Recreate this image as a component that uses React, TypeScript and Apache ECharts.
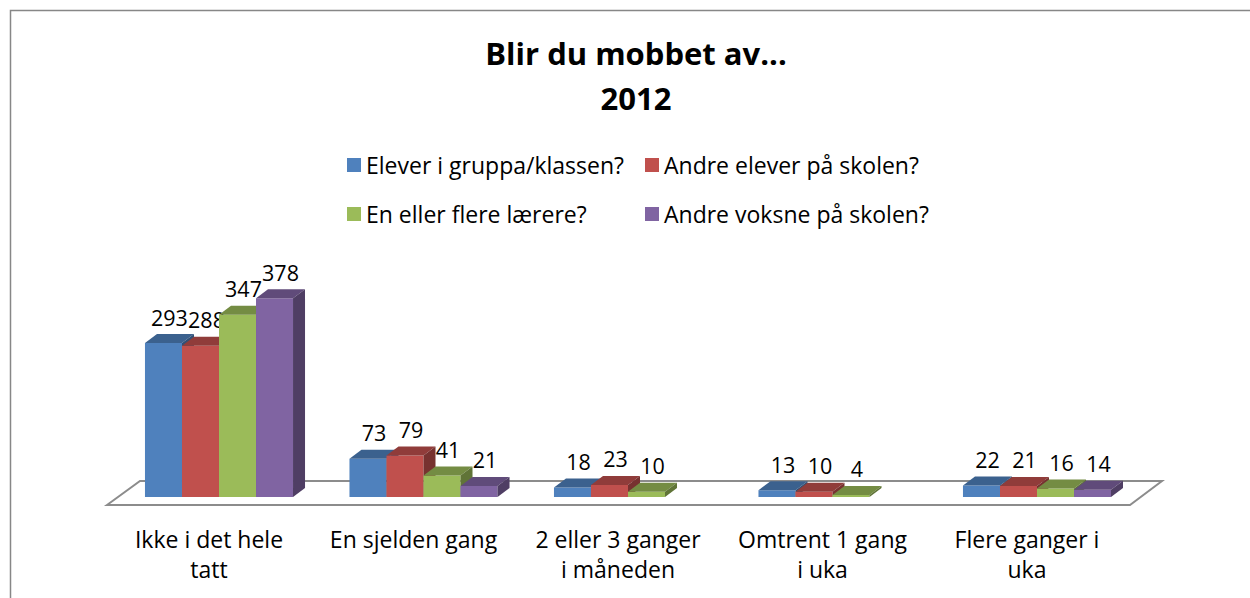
import React, { useEffect, useRef } from "react";
import * as echarts from "echarts";

const titleLines = ["Blir du mobbet av...", "2012"];
const categories = [
  "Ikke i det hele\ntatt",
  "En sjelden gang",
  "2 eller 3 ganger\ni måneden",
  "Omtrent 1 gang\ni uka",
  "Flere ganger i\nuka",
];
const seriesNames = [
  "Elever i gruppa/klassen?",
  "Andre elever på skolen?",
  "En eller flere lærere?",
  "Andre voksne på skolen?",
];
const eleverIGruppa = [293, 73, 18, 13, 22];
const andreElever = [288, 79, 23, 10, 21];
const laerere = [347, 41, 10, 4, 16];
const andreVoksne: (number | null)[] = [378, 21, null, null, 14];
const seriesValues = [eleverIGruppa, andreElever, laerere, andreVoksne];
const colors = ["#4F81BD", "#C0504D", "#9BBB59", "#8064A2"];

const FONT = "'Open Sans', 'Noto Sans', sans-serif";
const DX = 12;
const DY = 9;
const SHIFT = 10;
const BAR_FRAC = 0.181;

function shade(hex: string, f: number) {
  const n = parseInt(hex.slice(1), 16);
  const r = Math.round(((n >> 16) & 255) * f);
  const g = Math.round(((n >> 8) & 255) * f);
  const b = Math.round((n & 255) * f);
  return `rgb(${r},${g},${b})`;
}

export default function App() {
  const ref = useRef<HTMLDivElement>(null);
  useEffect(() => {
    if (!ref.current) return;
    const chart = echarts.init(ref.current, undefined, { renderer: "svg" });
    const series = seriesNames.map((name, si) => ({
      type: "custom",
      name,
      itemStyle: { color: colors[si] },
      encode: { x: 0, y: 1 },
      data: categories.map((c, i) => [i, seriesValues[si][i] == null ? "-" : seriesValues[si][i]]),
      renderItem: (params: any, api: any) => {
        const v = api.value(1);
        if (v == null || isNaN(v)) return null;
        const ci = api.value(0);
        const base = api.coord([ci, 0]);
        const topP = api.coord([ci, v]);
        const band = api.size([1, 0])[0];
        const w = band * BAR_FRAC;
        const x0 = base[0] + SHIFT - 2 * w + si * w;
        const x1 = x0 + w;
        const yb = base[1];
        const yt = topP[1];
        const col = colors[si];
        return {
          type: "group",
          children: [
            { type: "rect", shape: { x: x0, y: yt, width: w, height: yb - yt }, style: { fill: col } },
            {
              type: "polygon",
              shape: { points: [[x0, yt], [x0 + DX, yt - DY], [x1 + DX, yt - DY], [x1, yt]] },
              style: { fill: shade(col, 0.75) },
            },
            {
              type: "polygon",
              shape: { points: [[x1, yt], [x1 + DX, yt - DY], [x1 + DX, yb - DY], [x1, yb]] },
              style: { fill: shade(col, 0.62) },
            },
            {
              type: "text",
              style: {
                text: String(v),
                x: x0 + w / 2 + DX / 2,
                y: yt - DY - 17,
                align: "center",
                verticalAlign: "middle",
                fontSize: 21.5,
                fontFamily: FONT,
                fill: "#000",
              },
            },
          ],
        };
      },
    }));

    const legendPos = [
      [347, 153],
      [645, 153],
      [347, 202],
      [645, 202],
    ];

    chart.setOption({
      animation: false,
      backgroundColor: "#fff",
      title: {
        text: titleLines.join("\n"),
        left: 636,
        textAlign: "center",
        top: 30,
        padding: 0,
        textStyle: { fontSize: 31, fontWeight: "bold", fontFamily: FONT, color: "#000", lineHeight: 45 },
      },
      legend: seriesNames.map((n, i) => ({
        data: [n],
        left: legendPos[i][0],
        top: legendPos[i][1],
        icon: "rect",
        itemWidth: 14,
        itemHeight: 14,
        selectedMode: false,
        padding: 0,
        textStyle: { fontSize: 23, lineHeight: 24, fontFamily: FONT, color: "#000" },
      })),
      grid: { left: 106.75, width: 1022.5, top: 286.8, bottom: 101 },
      xAxis: {
        type: "category",
        data: categories,
        axisLine: { show: false },
        axisTick: { show: false },
        splitLine: { show: false },
        axisLabel: { fontSize: 23, fontFamily: FONT, color: "#000", lineHeight: 30, margin: 27, interval: 0 },
      },
      yAxis: { type: "value", min: 0, max: 400, show: false, splitLine: { show: false } },
      graphic: [
        {
          type: "rect",
          z: 0,
          shape: { x: 10.5, y: 10.5, width: 1400, height: 800 },
          style: { fill: "none", stroke: "#878787", lineWidth: 1.5 },
        },
        {
          type: "polygon",
          z: 0,
          shape: { points: [[107, 505], [140, 481], [1162, 481], [1130, 505]] },
          style: { fill: "#fff", stroke: "#8c8c8c", lineWidth: 2 },
        },
      ],
      series,
    });
    return () => chart.dispose();
  }, []);
  return <div ref={ref} style={{ position: "fixed", left: 0, top: 0, width: 1250, height: 598 }} />;
}
